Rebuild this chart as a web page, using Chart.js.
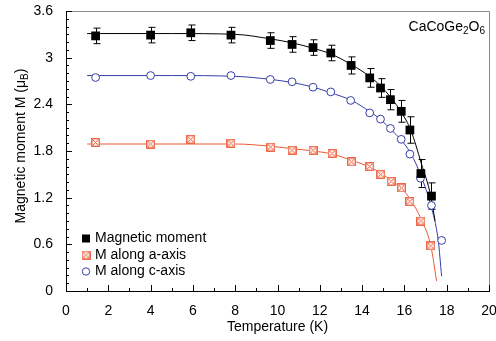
<!DOCTYPE html>
<html>
<head>
<meta charset="utf-8">
<script src="https://cdn.jsdelivr.net/npm/chart.js@4.4.1/dist/chart.umd.min.js"></script>
<style>
  body { margin: 0; background: #fff; }
  #wrap { position: relative; width: 496px; height: 341px; font-family: "Liberation Sans", Arial, sans-serif; color: #000; }
  #myChart { position: absolute; left: 0; top: 0; }
  #ytitle { position: absolute; width: 240px; left: -100px; top: 138px; text-align: center; font-size: 14px; line-height: 16px; transform: rotate(-90deg); }
  #compound { position: absolute; right: 11px; top: 18px; font-size: 14px; line-height: 16px; }
  sub { font-size: 10px; vertical-align: -3px; line-height: 0; }
</style>
</head>
<body>
<div id="wrap">
  <canvas id="myChart" width="496" height="341"></canvas>
  <div id="ytitle">Magnetic moment M (μ<sub>B</sub>)</div>
  <div id="compound">CaCoGe<sub>2</sub>O<sub>6</sub></div>
</div>
<script>
// measured points (temperature in K, moment in muB)
const tempMoment = [1.4, 4.0, 5.9, 7.8, 9.66, 10.69, 11.68, 12.52, 13.48, 14.36, 14.87, 15.34, 15.85, 16.26, 16.78, 17.28];
const moment = [3.28, 3.29, 3.32, 3.29, 3.22, 3.17, 3.13, 3.06, 2.90, 2.74, 2.61, 2.46, 2.31, 2.07, 1.51, 1.22];
const momentErr = [0.1, 0.1, 0.1, 0.1, 0.1, 0.1, 0.1, 0.1, 0.11, 0.12, 0.12, 0.13, 0.14, 0.17, 0.18, 0.17];

const tempA = [1.4, 4.0, 5.9, 7.8, 9.68, 10.69, 11.68, 12.58, 13.5, 14.36, 14.88, 15.37, 15.86, 16.26, 16.78, 17.25];
const momentA = [1.91, 1.89, 1.95, 1.90, 1.85, 1.81, 1.81, 1.77, 1.66, 1.60, 1.50, 1.41, 1.325, 1.15, 0.90, 0.58];

const tempC = [1.4, 4.0, 5.9, 7.8, 9.66, 10.69, 11.68, 12.52, 13.46, 14.36, 14.87, 15.34, 15.85, 16.26, 16.76, 17.28, 17.76];
const momentC = [2.745, 2.77, 2.76, 2.77, 2.72, 2.69, 2.62, 2.56, 2.45, 2.29, 2.21, 2.09, 1.95, 1.76, 1.45, 1.10, 0.65];

// fitted curves
const fitT = [1.0, 5.0, 8.0, 9.7, 10.7, 11.7, 12.5, 13.5, 14.4, 14.9, 15.35, 15.85, 16.3, 16.8, 17.25, 17.45];
const fitM = [3.31, 3.31, 3.30, 3.24, 3.19, 3.12, 3.05, 2.91, 2.75, 2.63, 2.49, 2.30, 2.07, 1.64, 1.22, 0.9];
const fitTA = [1.0, 5.0, 8.0, 9.7, 10.7, 11.7, 12.6, 13.5, 14.4, 14.9, 15.4, 15.9, 16.3, 16.8, 17.25, 17.52];
const fitMA = [1.89, 1.89, 1.89, 1.86, 1.83, 1.80, 1.76, 1.68, 1.59, 1.51, 1.42, 1.31, 1.17, 0.92, 0.58, 0.13];
const fitTC = [1.0, 5.0, 8.0, 9.7, 10.7, 11.7, 12.5, 13.5, 14.4, 14.9, 15.35, 15.85, 16.3, 16.8, 17.25, 17.6, 17.76];
const fitMC = [2.77, 2.77, 2.76, 2.72, 2.68, 2.62, 2.55, 2.45, 2.30, 2.20, 2.08, 1.94, 1.77, 1.47, 1.10, 0.65, 0.19];

const xTicks = [0, 2, 4, 6, 8, 10, 12, 14, 16, 18, 20];
const yTicks = [0, 0.6, 1.2, 1.8, 2.4, 3.0, 3.6];

const RED = 'rgb(236, 88, 52)';
const BLUE = 'rgb(52, 62, 168)';

const pts = (xs, ys) => xs.map((x, i) => ({ x: x, y: ys[i] }));

// boxed cross marker
function boxCross(size) {
    const c = document.createElement('canvas');
    c.width = size; c.height = size;
    const g = c.getContext('2d');
    g.fillStyle = '#fff';
    g.fillRect(0, 0, size, size);
    g.strokeStyle = RED;
    g.lineWidth = 1.3;
    g.strokeRect(0.75, 0.75, size - 1.5, size - 1.5);
    g.lineWidth = 1;
    g.beginPath();
    g.moveTo(2, 2); g.lineTo(size - 2, size - 2);
    g.moveTo(size - 2, 2); g.lineTo(2, size - 2);
    g.stroke();
    return c;
}
const crossImg = boxCross(9);

const axesPlugin = {
    id: 'axesPlugin',
    beforeDatasetsDraw(chart) {
        const { ctx, chartArea: a, scales: { x, y } } = chart;
        ctx.save();
        ctx.lineWidth = 1;
        ctx.strokeStyle = '#8a8a8a';
        ctx.beginPath();
        ctx.moveTo(a.left, a.top + 0.5); ctx.lineTo(a.right + 0.5, a.top + 0.5);
        ctx.lineTo(a.right + 0.5, a.bottom);
        ctx.stroke();
        ctx.strokeStyle = '#000';
        ctx.beginPath();
        ctx.moveTo(a.left + 0.5, a.top); ctx.lineTo(a.left + 0.5, a.bottom + 0.5);
        ctx.lineTo(a.right + 1, a.bottom + 0.5);
        for (let i = 0; i <= 20; i++) {
            const px = Math.round(x.getPixelForValue(i)) + 0.5;
            ctx.moveTo(px, a.bottom);
            ctx.lineTo(px, a.bottom - (i % 2 === 0 ? 6 : 3));
        }
        for (let j = 0; j <= 36; j++) {
            const py = Math.round(y.getPixelForValue(j / 10)) + 0.5;
            ctx.moveTo(a.left, py);
            ctx.lineTo(a.left + (j % 6 === 0 ? 6 : 3), py);
        }
        ctx.stroke();

        // error bars on the magnetic moment points
        ctx.beginPath();
        tempMoment.forEach((t, i) => {
            const px = Math.round(x.getPixelForValue(t)) + 0.5;
            const top = y.getPixelForValue(moment[i] + momentErr[i]);
            const bot = y.getPixelForValue(moment[i] - momentErr[i]);
            ctx.moveTo(px, top); ctx.lineTo(px, bot);
            ctx.moveTo(px - 3, top); ctx.lineTo(px + 4, top);
            ctx.moveTo(px - 3, bot); ctx.lineTo(px + 4, bot);
        });
        ctx.stroke();
        ctx.restore();
    },
    afterDraw(chart) {
        const { ctx } = chart;
        ctx.save();
        ctx.font = '14px "Liberation Sans", Arial, sans-serif';
        ctx.fillStyle = '#000';
        ctx.textBaseline = 'middle';
        const lx = 86, tx = 95;
        const rows = [238.5, 255, 271.5];
        ctx.fillRect(lx - 4, rows[0] - 4, 8, 8);
        ctx.drawImage(crossImg, lx - 4.5, rows[1] - 4.5, 9, 9);
        ctx.strokeStyle = BLUE;
        ctx.beginPath();
        ctx.arc(lx, rows[2], 3.7, 0, Math.PI * 2);
        ctx.stroke();
        ctx.fillText('Magnetic moment', tx, rows[0]);
        ctx.fillText('M along a-axis', tx, rows[1]);
        ctx.fillText('M along c-axis', tx, rows[2]);
        ctx.restore();
    }
};

const lineStyle = { showLine: true, pointRadius: 0, borderWidth: 1, cubicInterpolationMode: 'monotone', fill: false };

new Chart(document.getElementById('myChart'), {
    type: 'scatter',
    data: {
        datasets: [
            { label: 'fit c', data: pts(fitTC, fitMC), borderColor: BLUE, order: 6, ...lineStyle },
            { label: 'fit a', data: pts(fitTA, fitMA), borderColor: RED, order: 5, ...lineStyle },
            { label: 'fit', data: pts(fitT, fitM), borderColor: '#000', order: 4, ...lineStyle },
            { label: 'M along c-axis', data: pts(tempC, momentC), pointStyle: 'circle', pointRadius: 3.9,
              borderColor: BLUE, backgroundColor: '#fff', borderWidth: 1, order: 3 },
            { label: 'M along a-axis', data: pts(tempA, momentA), pointStyle: crossImg, order: 2 },
            { label: 'Magnetic moment', data: pts(tempMoment, moment), pointStyle: 'rect', pointRadius: 6.2,
              borderColor: '#000', backgroundColor: '#000', borderWidth: 0, order: 1 }
        ]
    },
    options: {
        responsive: false,
        animation: false,
        events: [],
        layout: { padding: { top: 11, right: 7, left: 0, bottom: 0 } },
        plugins: { legend: { display: false }, tooltip: { enabled: false } },
        scales: {
            x: {
                type: 'linear', min: 0, max: 20,
                afterBuildTicks: s => { s.ticks = xTicks.map(v => ({ value: v })); },
                afterFit: s => { s.height = 50; s.paddingLeft = 0; s.paddingRight = 0; },
                grid: { display: false, drawTicks: false },
                border: { display: false },
                ticks: { color: '#000', padding: 12, font: { size: 14, family: '"Liberation Sans", Arial, sans-serif' } },
                title: { display: true, text: 'Temperature (K)', color: '#000', padding: { top: 0, bottom: 5 },
                         font: { size: 14, family: '"Liberation Sans", Arial, sans-serif' } }
            },
            y: {
                type: 'linear', min: 0, max: 3.6,
                afterBuildTicks: s => { s.ticks = yTicks.map(v => ({ value: v })); },
                afterFit: s => { s.width = 66; s.paddingTop = 0; s.paddingBottom = 0; },
                grid: { display: false, drawTicks: false },
                border: { display: false },
                ticks: { color: '#000', padding: 13, callback: v => String(Number(v.toFixed(1))),
                         font: { size: 14, family: '"Liberation Sans", Arial, sans-serif' } }
            }
        }
    },
    plugins: [axesPlugin]
});
</script>
</body>
</html>
